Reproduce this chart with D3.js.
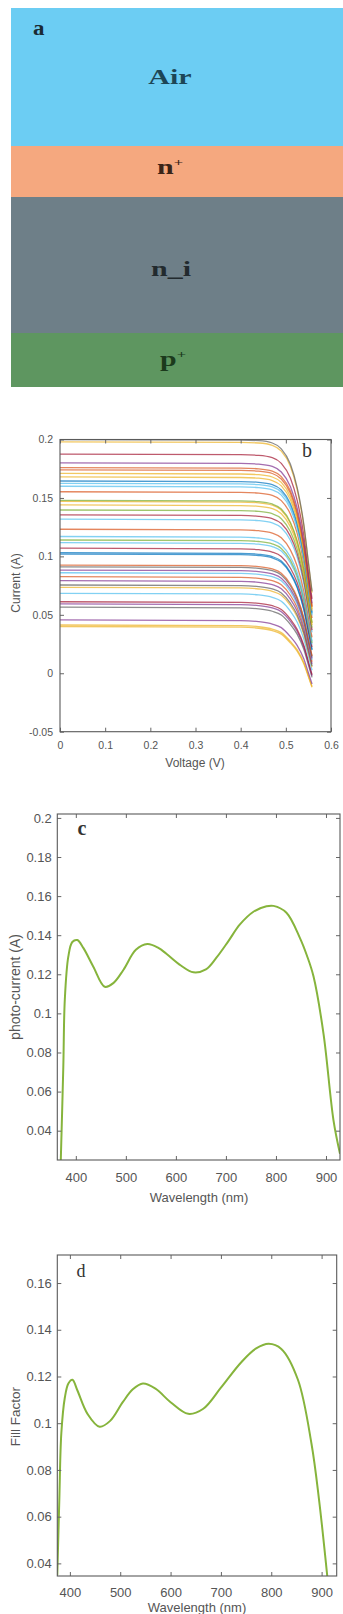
<!DOCTYPE html>
<html><head><meta charset="utf-8">
<script src="https://cdn.jsdelivr.net/npm/d3@7"></script>
<style>body{margin:0;background:#fff}svg{display:block}</style>
</head><body>
<script>
// ---------- Panel a : layer stack ----------
const layerLabels = ["Air", "n+", "n_i", "p+"];
const layerThickness = [138, 51, 136, 54];
const layerColors = ["#6ccdf3", "#f5a87f", "#6e7f88", "#5e9660"];
const layerTextColors = ["#1d4656", "#3a2418", "#222a2e", "#1b3a1c"];

// ---------- Panel b : I-V curves ----------
const iscValues = [0.200,0.198,0.1875,0.180,0.176,0.174,0.171,0.168,0.1645,0.1625,0.160,0.1553,0.148,0.147,0.144,0.1397,0.1355,0.1318,0.1232,0.117,0.114,0.1117,0.107,0.1031,0.102,0.0926,0.0911,0.0883,0.086,0.0826,0.0792,0.0755,0.0735,0.0684,0.0612,0.0593,0.0565,0.0456,0.0413,0.040];
const curveColors = ["#5b5b5b","#EDB120","#A2142F","#7E2F8E","#D95319","#D95319","#EDB120","#EDB120","#0072BD","#4DBEEE","#4DBEEE","#D95319","#77AC30","#EDB120","#EDB120","#77AC30","#A2142F","#4DBEEE","#D95319","#4DBEEE","#77AC30","#4DBEEE","#A2142F","#0072BD","#0072BD","#D95319","#5b5b5b","#7E2F8E","#4DBEEE","#D95319","#7E2F8E","#5b5b5b","#EDB120","#4DBEEE","#A2142F","#7E2F8E","#5b5b5b","#7E2F8E","#EDB120","#EDB120"];
const kneeVoltage = [0, 0.40, 0.44, 0.47, 0.49, 0.51, 0.525, 0.54, 0.55, 0.558];
const dropHighest = [0, 0.0005, 0.001, 0.003, 0.008, 0.021, 0.041, 0.073, 0.105, 0.13];
const dropLowest  = [0, 0.0005, 0.0015, 0.0035, 0.0065, 0.014, 0.021, 0.032, 0.043, 0.052];
const bXTicks = [0, 0.1, 0.2, 0.3, 0.4, 0.5, 0.6];
const bXTickLabels = ["0", "0.1", "0.2", "0.3", "0.4", "0.5", "0.6"];
const bYTicks = [-0.05, 0, 0.05, 0.1, 0.15, 0.2];
const bYTickLabels = ["-0.05", "0", "0.05", "0.1", "0.15", "0.2"];

// ---------- Panel c : photo-current ----------
const lambdaC = [370, 375, 378, 385, 393, 403, 415, 435, 458, 475, 495, 520, 543, 565, 581, 610, 635, 660, 681, 705, 728, 755, 781, 795, 821, 848, 862, 875, 895, 915, 928];
const photoCurrent = [0.025, 0.0726, 0.107, 0.129, 0.1365, 0.1375, 0.1335, 0.1239, 0.1136, 0.1155, 0.1222, 0.1325, 0.1355, 0.1335, 0.1305, 0.1245, 0.121, 0.1225, 0.1285, 0.137, 0.1455, 0.152, 0.1548, 0.155, 0.1515, 0.1385, 0.1295, 0.119, 0.0897, 0.0453, 0.0282];
const cXTicks = [400, 500, 600, 700, 800, 900];
const cXTickLabels = ["400", "500", "600", "700", "800", "900"];
const cYTicks = [0.04, 0.06, 0.08, 0.1, 0.12, 0.14, 0.16, 0.18, 0.2];
const cYTickLabels = ["0.04", "0.06", "0.08", "0.1", "0.12", "0.14", "0.16", "0.18", "0.2"];

// ---------- Panel d : fill factor ----------
const lambdaD = [375, 379, 383, 390, 397, 405, 415, 435, 459, 480, 505, 525, 545, 570, 600, 635, 665, 700, 740, 770, 795, 820, 853, 880, 895, 912];
const fillFactor = [0.035, 0.0671, 0.0957, 0.111, 0.117, 0.1186, 0.114, 0.104, 0.0985, 0.101, 0.109, 0.1145, 0.117, 0.1148, 0.109, 0.104, 0.1062, 0.1152, 0.126, 0.132, 0.134, 0.1318, 0.1186, 0.0911, 0.0671, 0.033];
const dXTicks = [400, 500, 600, 700, 800, 900];
const dXTickLabels = ["400", "500", "600", "700", "800", "900"];
const dYTicks = [0.04, 0.06, 0.08, 0.1, 0.12, 0.14, 0.16];
const dYTickLabels = ["0.04", "0.06", "0.08", "0.1", "0.12", "0.14", "0.16"];

const W = 343, H = 1614;
const svg = d3.select("body").append("svg").attr("width", W).attr("height", H);
svg.append("rect").attr("width", W).attr("height", H).attr("fill", "#fff");
const SANS = "'Liberation Sans', Arial, sans-serif";
const SERIF = "'Liberation Serif', 'Times New Roman', serif";

// ----- Panel a -----
{
  const cum = [0]; layerThickness.forEach(t => cum.push(cum[cum.length - 1] + t));
  const y = d3.scaleLinear().domain([0, cum[cum.length - 1]]).range([8, 387]);
  const g = svg.append("g");
  layerLabels.forEach((lab, i) => {
    g.append("rect").attr("x", 11).attr("width", W - 11)
      .attr("y", y(cum[i])).attr("height", y(cum[i + 1]) - y(cum[i]))
      .attr("fill", layerColors[i]);
  });
  const labelBaselineOffset = [0.55, 0.55, 0.58, 0.62];
  const labelCx = [170, 170, 171, 173];
  layerLabels.forEach((lab, i) => {
    const cy = y(cum[i]) + (y(cum[i + 1]) - y(cum[i])) * labelBaselineOffset[i];
    const t = g.append("text")
      .attr("transform", `translate(${labelCx[i]},${cy}) scale(1.5,1)`)
      .attr("text-anchor", "middle").attr("font-family", SERIF).attr("font-weight", "bold")
      .attr("font-size", 20).attr("fill", layerTextColors[i]);
    if (lab.endsWith("+")) {
      t.append("tspan").text(lab.slice(0, -1));
      t.append("tspan").text("+").attr("font-size", 11).attr("dy", -8);
    } else t.text(lab);
  });
  g.append("text").attr("transform", "translate(33,35) scale(1.15,1)")
    .attr("font-family", SERIF).attr("font-weight", "bold").attr("font-size", 20)
    .attr("fill", "#1a2a33").text("a");
}

function frame(g, x, y, xt, xl, yt, yl, fs, padX, padY) {
  const [L, R] = x.range(), [B, T] = y.range();
  const ax = (sel) => { sel.select(".domain").remove(); sel.selectAll("line").attr("stroke", "#666"); sel.selectAll("text").attr("fill", "#555").attr("font-family", SANS).attr("font-size", fs); };
  g.append("g").attr("transform", `translate(0,${B})`)
    .call(d3.axisBottom(x).tickValues(xt).tickFormat((d, i) => xl[i]).tickSizeInner(-4).tickSizeOuter(0).tickPadding(padX)).call(ax);
  g.append("g").attr("transform", `translate(${L},0)`)
    .call(d3.axisLeft(y).tickValues(yt).tickFormat((d, i) => yl[i]).tickSizeInner(-4).tickSizeOuter(0).tickPadding(padY)).call(ax);
  g.append("g").attr("transform", `translate(0,${T})`)
    .call(d3.axisTop(x).tickValues(xt).tickFormat("").tickSizeInner(-4).tickSizeOuter(0)).call(ax);
  g.append("g").attr("transform", `translate(${R},0)`)
    .call(d3.axisRight(y).tickValues(yt).tickFormat("").tickSizeInner(-4).tickSizeOuter(0)).call(ax);
  g.append("rect").attr("x", L).attr("y", T).attr("width", R - L).attr("height", B - T)
    .attr("fill", "none").attr("stroke", "#5a5a5a").attr("stroke-width", 1.1);
}
function clip(id, x, y) {
  const [L, R] = x.range(), [B, T] = y.range();
  svg.append("clipPath").attr("id", id).append("rect").attr("x", L).attr("y", T).attr("width", R - L).attr("height", B - T);
}

// ----- Panel b -----
{
  const x = d3.scaleLinear().domain([0, 0.6]).range([60, 331]);
  const y = d3.scaleLinear().domain([-0.05, 0.2]).range([731.7, 439.5]);
  const g = svg.append("g");
  clip("cb", x, y);
  const line = d3.line().x(d => x(d[0])).y(d => y(d[1])).curve(d3.curveMonotoneX);
  const hi = d3.max(iscValues), lo = d3.min(iscValues);
  const lines = g.append("g").attr("clip-path", "url(#cb)");
  iscValues.map((isc, i) => ({ isc, i })).reverse().forEach(({ isc, i }) => {
    const f = (isc - lo) / (hi - lo);
    const pts = kneeVoltage.map((v, k) => [v, isc - (dropLowest[k] + f * (dropHighest[k] - dropLowest[k]))]);
    lines.append("path").attr("d", line(pts)).attr("fill", "none")
      .attr("stroke", curveColors[i]).attr("stroke-opacity", 0.7).attr("stroke-width", 1.3);
  });
  frame(g, x, y, bXTicks, bXTickLabels, bYTicks, bYTickLabels, 10.5, 9.5, 7);
  g.append("text").attr("x", 195).attr("y", 767).attr("text-anchor", "middle")
    .attr("font-family", SANS).attr("font-size", 12).attr("fill", "#555").text("Voltage (V)");
  g.append("text").attr("transform", "translate(19.5,583) rotate(-90)").attr("text-anchor", "middle")
    .attr("font-family", SANS).attr("font-size", 12).attr("fill", "#555").text("Current (A)");
  g.append("text").attr("x", 307).attr("y", 457).attr("text-anchor", "middle")
    .attr("font-family", SERIF).attr("font-size", 20).attr("fill", "#333").text("b");
}

// ----- Panel c -----
{
  const x = d3.scaleLinear().domain([363, 928]).range([57.3, 340]);
  const y = d3.scaleLinear().domain([0.025, 0.202]).range([1160, 814]);
  const g = svg.append("g");
  clip("cc", x, y);
  const line = d3.line().x((d, i) => x(lambdaC[i])).y(d => y(d)).curve(d3.curveCatmullRom.alpha(0.5));
  g.append("path").attr("clip-path", "url(#cc)").attr("d", line(photoCurrent))
    .attr("fill", "none").attr("stroke", "#86b43c").attr("stroke-width", 2);
  frame(g, x, y, cXTicks, cXTickLabels, cYTicks, cYTickLabels, 13, 12.5, 5.6);
  g.append("text").attr("x", 199).attr("y", 1201.7).attr("text-anchor", "middle")
    .attr("font-family", SANS).attr("font-size", 13).attr("fill", "#555").text("Wavelength (nm)");
  g.append("text").attr("transform", "translate(19.5,987) rotate(-90)").attr("text-anchor", "middle")
    .attr("font-family", SANS).attr("font-size", 14).attr("fill", "#555").text("photo-current (A)");
  g.append("text").attr("x", 82).attr("y", 835).attr("text-anchor", "middle")
    .attr("font-family", SERIF).attr("font-weight", "bold").attr("font-size", 20).attr("fill", "#333").text("c");
}

// ----- Panel d -----
{
  const x = d3.scaleLinear().domain([375, 930]).range([57.3, 336.7]);
  const y = d3.scaleLinear().domain([0.0346, 0.172]).range([1576, 1255]);
  const g = svg.append("g");
  clip("cd", x, y);
  const line = d3.line().x((d, i) => x(lambdaD[i])).y(d => y(d)).curve(d3.curveCatmullRom.alpha(0.5));
  g.append("path").attr("clip-path", "url(#cd)").attr("d", line(fillFactor))
    .attr("fill", "none").attr("stroke", "#86b43c").attr("stroke-width", 2);
  frame(g, x, y, dXTicks, dXTickLabels, dYTicks, dYTickLabels, 13, 11.5, 5.6);
  g.append("text").attr("x", 197).attr("y", 1612).attr("text-anchor", "middle")
    .attr("font-family", SANS).attr("font-size", 13).attr("fill", "#555").text("Wavelength (nm)");
  g.append("text").attr("transform", "translate(20,1416.7) rotate(-90)").attr("text-anchor", "middle")
    .attr("font-family", SANS).attr("font-size", 13.5).attr("fill", "#555").text("Fill Factor");
  g.append("text").attr("x", 81).attr("y", 1276.7).attr("text-anchor", "middle")
    .attr("font-family", SERIF).attr("font-size", 18).attr("fill", "#333").text("d");
}
</script>
</body></html>
